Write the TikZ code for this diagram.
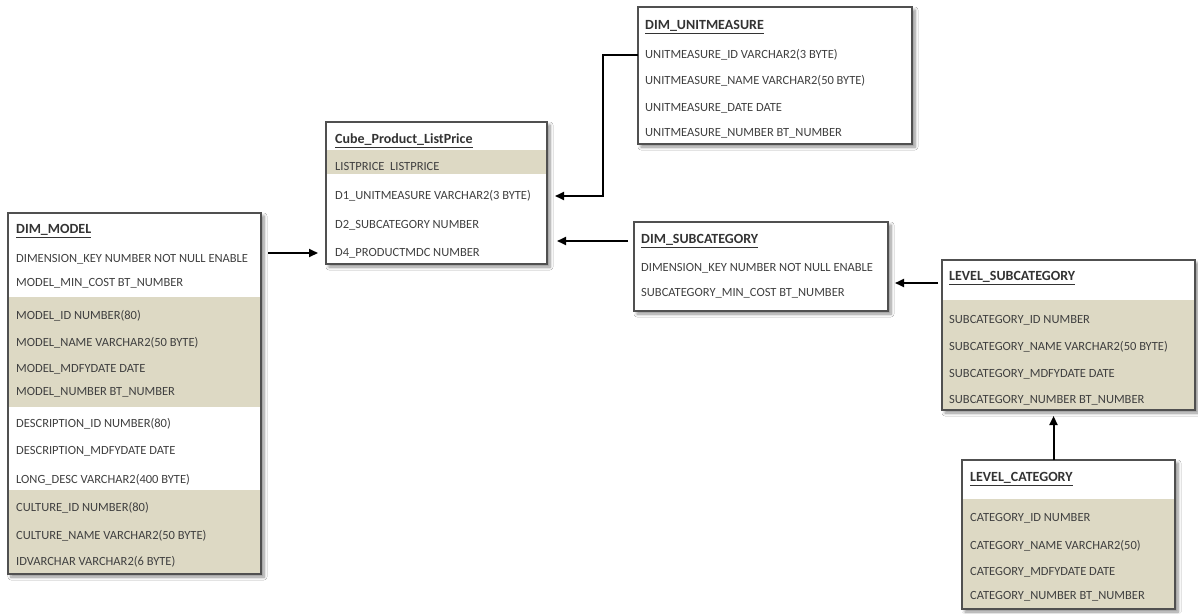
\documentclass[tikz,border=0pt]{standalone}
\usepackage{fontspec}
\setmainfont{Carlito}
\usetikzlibrary{shadows,shadows.blur,arrows.meta}
\definecolor{band}{HTML}{DDD9C4}
\definecolor{txt}{HTML}{404040}
\definecolor{edge}{HTML}{505050}
\tikzset{
  tbl/.style={fill=white, inner sep=0pt, outer sep=0pt, anchor=north west,
    blur shadow={shadow xshift=3pt, shadow yshift=-3pt, shadow blur steps=6, shadow blur radius=3pt, shadow opacity=45}},
  frame/.style={draw=edge, line width=1.2pt},
  row/.style={anchor=west, inner sep=0pt, text=txt, font=\fontsize{12.5}{14}\selectfont},
  ttl/.style={anchor=west, inner sep=0pt, text=black!80, font=\fontsize{14}{16}\selectfont\bfseries},
  link/.style={line width=2pt, -{Triangle[length=9pt,width=8pt]}},
}
\begin{document}
\begin{tikzpicture}[x=1pt,y=-1pt]
\useasboundingbox[fill=white] (0,0) rectangle (1198,613);

% DIM_MODEL
\node[tbl, minimum width=253pt, minimum height=361pt] (model) at (8,213) {};
\fill[band] (8,297) rectangle (261,407);
\fill[band] (8,490) rectangle (261,574);
\draw[frame] (model.north west) rectangle (model.south east);
\node[ttl] (modelT) at (16,231) {\underline{DIM\_MODEL}};
\node[row] (m1) at (16,259) {DIMENSION\_KEY NUMBER NOT NULL ENABLE};
\node[row] (m2) at (16,283) {MODEL\_MIN\_COST BT\_NUMBER};
\node[row] (m3) at (16,316) {MODEL\_ID NUMBER(80)};
\node[row] (m4) at (16,343) {MODEL\_NAME VARCHAR2(50 BYTE)};
\node[row] (m5) at (16,369) {MODEL\_MDFYDATE DATE};
\node[row] (m6) at (16,392) {MODEL\_NUMBER BT\_NUMBER};
\node[row] (m7) at (16,424) {DESCRIPTION\_ID NUMBER(80)};
\node[row] (m8) at (16,451) {DESCRIPTION\_MDFYDATE DATE};
\node[row] (m9) at (16,480) {LONG\_DESC VARCHAR2(400 BYTE)};
\node[row] (m10) at (16,508) {CULTURE\_ID NUMBER(80)};
\node[row] (m11) at (16,536) {CULTURE\_NAME VARCHAR2(50 BYTE)};
\node[row] (m12) at (16,562) {IDVARCHAR VARCHAR2(6 BYTE)};

% Cube_Product_ListPrice
\node[tbl, minimum width=221pt, minimum height=142pt] (cube) at (326,122) {};
\fill[band] (326,150) rectangle (547,174);
\draw[frame] (cube.north west) rectangle (cube.south east);
\node[ttl] (cubeT) at (335,141) {\underline{Cube\_Product\_ListPrice}};
\node[row] (c1) at (335,166) {LISTPRICE\ \ LISTPRICE};
\node[row] (c2) at (335,196) {D1\_UNITMEASURE VARCHAR2(3 BYTE)};
\node[row] (c3) at (335,225) {D2\_SUBCATEGORY NUMBER};
\node[row] (c4) at (335,253) {D4\_PRODUCTMDC NUMBER};

% DIM_UNITMEASURE
\node[tbl, minimum width=274pt, minimum height=137pt] (unit) at (638,7) {};
\draw[frame] (unit.north west) rectangle (unit.south east);
\node[ttl] (unitT) at (645,27) {\underline{DIM\_UNITMEASURE}};
\node[row] (u1) at (645,55) {UNITMEASURE\_ID VARCHAR2(3 BYTE)};
\node[row] (u2) at (645,81) {UNITMEASURE\_NAME VARCHAR2(50 BYTE)};
\node[row] (u3) at (645,108) {UNITMEASURE\_DATE DATE};
\node[row] (u4) at (645,133) {UNITMEASURE\_NUMBER BT\_NUMBER};

% DIM_SUBCATEGORY
\node[tbl, minimum width=254pt, minimum height=89pt] (sub) at (634,222) {};
\draw[frame] (sub.north west) rectangle (sub.south east);
\node[ttl] (subT) at (641,241) {\underline{DIM\_SUBCATEGORY}};
\node[row] (s1) at (641,268) {DIMENSION\_KEY NUMBER NOT NULL ENABLE};
\node[row] (s2) at (641,293) {SUBCATEGORY\_MIN\_COST BT\_NUMBER};

% LEVEL_SUBCATEGORY
\node[tbl, minimum width=253pt, minimum height=150pt] (lsub) at (942,260) {};
\fill[band] (942,300) rectangle (1195,410);
\draw[frame] (lsub.north west) rectangle (lsub.south east);
\node[ttl] (lsubT) at (949,278) {\underline{LEVEL\_SUBCATEGORY}};
\node[row] (ls1) at (949,320) {SUBCATEGORY\_ID NUMBER};
\node[row] (ls2) at (949,347) {SUBCATEGORY\_NAME VARCHAR2(50 BYTE)};
\node[row] (ls3) at (949,374) {SUBCATEGORY\_MDFYDATE DATE};
\node[row] (ls4) at (949,400) {SUBCATEGORY\_NUMBER BT\_NUMBER};

% LEVEL_CATEGORY
\node[tbl, minimum width=213pt, minimum height=149pt] (lcat) at (962,460) {};
\fill[band] (962,499) rectangle (1175,609);
\draw[frame] (lcat.north west) rectangle (lcat.south east);
\node[ttl] (lcatT) at (970,479) {\underline{LEVEL\_CATEGORY}};
\node[row] (lc1) at (970,518) {CATEGORY\_ID NUMBER};
\node[row] (lc2) at (970,546) {CATEGORY\_NAME VARCHAR2(50)};
\node[row] (lc3) at (970,572) {CATEGORY\_MDFYDATE DATE};
\node[row] (lc4) at (970,596) {CATEGORY\_NUMBER BT\_NUMBER};

% connectors
\draw[link] ([xshift=7pt]model.east |- c4.west) -- ([xshift=-8pt]cube.west |- c4.west);
\draw[link] (unit.west |- u1.west) -- ++(-35,0) |- ([xshift=8pt]cube.east |- c2.west);
\draw[link] ([xshift=-6pt]sub.west |- subT.west) -- ([xshift=10pt]cube.east |- subT.west);
\draw[link] ([xshift=-4pt,yshift=-5pt]lsub.west |- lsubT.west) -- ([xshift=7pt,yshift=-5pt]sub.east |- lsubT.west);
\draw[link] ([xshift=-15pt]lcat.north) -- ([xshift=-15pt,yshift=-6pt]lsub.south);
\end{tikzpicture}
\end{document}
